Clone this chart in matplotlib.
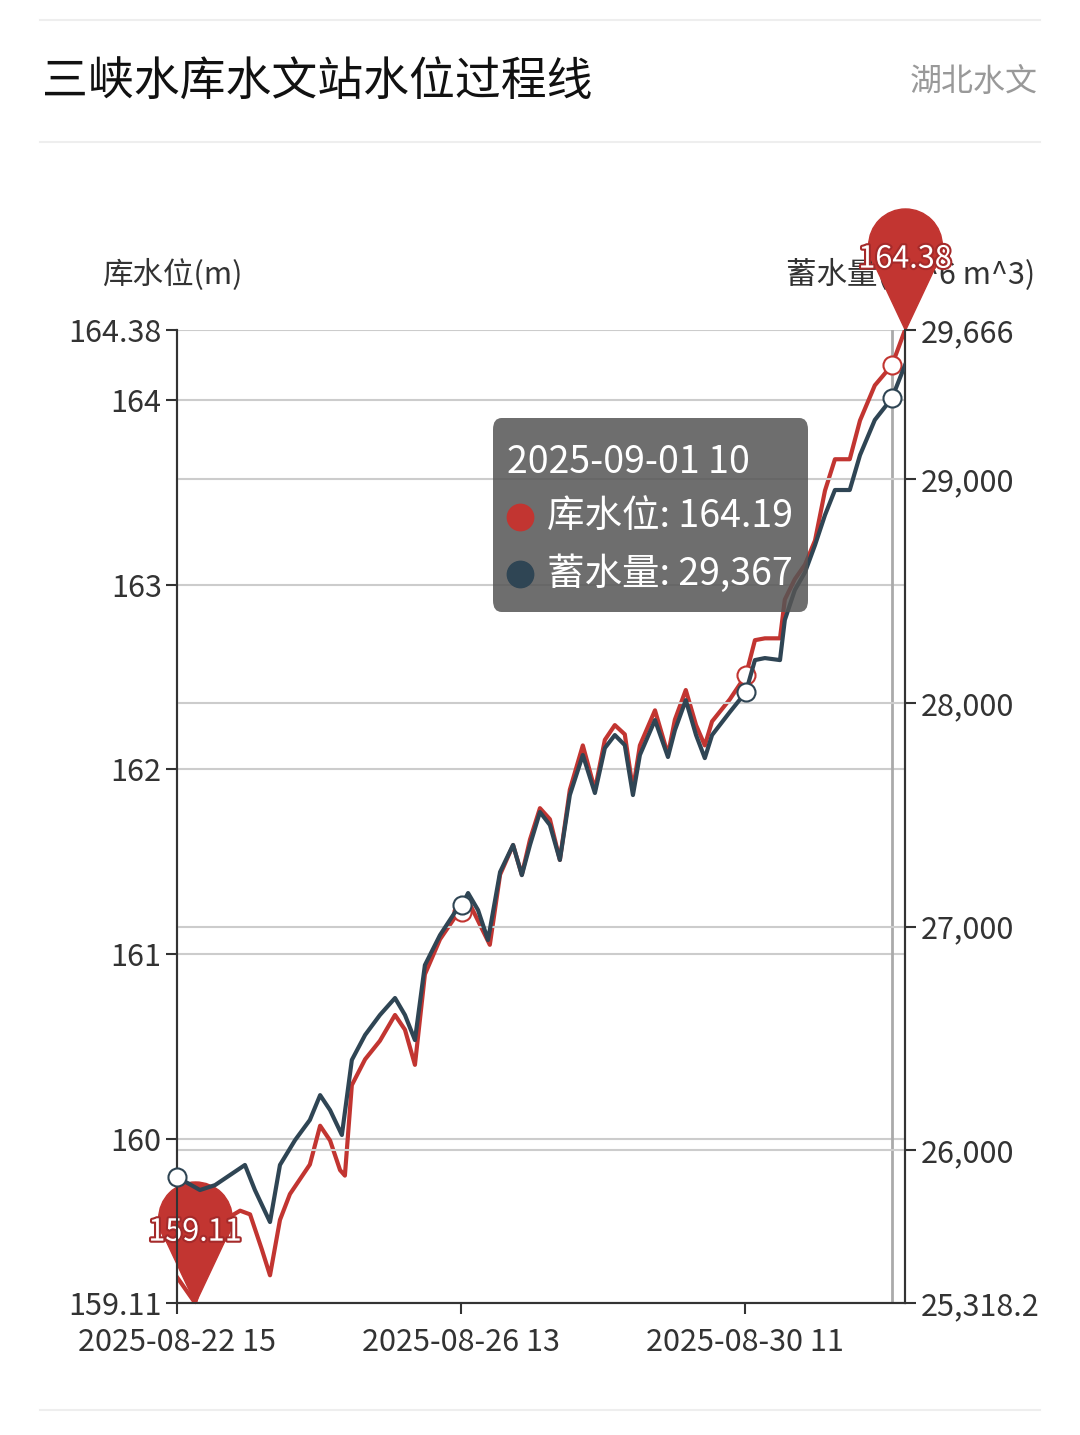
import matplotlib.pyplot as plt
from matplotlib.path import Path
from matplotlib.patches import FancyBboxPatch
import matplotlib.patheffects as pe

plt.rcParams['font.family'] = ['Noto Sans CJK SC', 'DejaVu Sans']

# hours since 2025-08-22 15:00
level_hours = [0, 6, 12.6, 20.9, 24.2, 28.1, 30.8, 34.1, 37.4, 40.7, 44.0, 47.4, 50.7, 54.0, 55.6,
               57.9, 62.3, 67.2, 72.2, 75.5, 78.8, 82.1, 87.1, 92.1, 94.4, 97.0, 100.3, 103.6,
               107.0, 111.3, 114.2, 116.9, 120.2, 123.5, 126.8, 130.1, 134.4, 138.4, 141.7,
               145.0, 148.3, 151.0, 153.3, 158.3, 162.6, 164.9, 168.5, 171.9, 174.8, 177.2,
               183.1, 188.4, 191.4, 194.7, 199.7, 201.3, 204.6, 208.0, 211.3, 214.6, 217.9,
               222.8, 226.2, 231.1, 236.8, 241.1]
level = [159.25, 159.11, 159.53, 159.61, 159.59, 159.40, 159.26, 159.56, 159.70, 159.78, 159.86,
         160.07, 159.99, 159.83, 159.80, 160.29, 160.43, 160.53, 160.67, 160.59, 160.40, 160.89,
         161.08, 161.20, 161.23, 161.27, 161.16, 161.05, 161.43, 161.59, 161.43, 161.62, 161.79,
         161.73, 161.51, 161.89, 162.13, 161.89, 162.16, 162.24, 162.19, 161.89, 162.13, 162.32,
         162.08, 162.27, 162.43, 162.24, 162.13, 162.26, 162.38, 162.51, 162.70, 162.71, 162.71,
         162.92, 163.03, 163.11, 163.24, 163.51, 163.68, 163.68, 163.89, 164.08, 164.19, 164.38]

storage_hours = [0, 7.6, 12.6, 22.5, 25.8, 30.8, 34.1, 39.1, 44.0, 47.4, 50.7, 54.6, 57.9, 62.3,
                 67.2, 72.2, 75.5, 78.8, 82.1, 87.1, 92.1, 94.4, 96.4, 99.7, 103.0, 107.0, 111.3,
                 114.2, 116.9, 120.2, 123.5, 126.8, 130.1, 134.4, 138.4, 141.7, 145.0, 148.3,
                 151.0, 153.3, 158.3, 162.6, 164.9, 168.5, 171.9, 174.8, 177.2, 183.1, 188.4,
                 191.4, 194.7, 199.7, 201.3, 204.6, 208.0, 211.3, 214.6, 217.9, 222.8, 226.2,
                 231.1, 236.8, 241.1]
storage = [25881, 25823, 25845, 25935, 25823, 25680, 25935, 26046, 26136, 26247, 26180, 26069,
           26404, 26516, 26605, 26681, 26605, 26493, 26828, 26962, 27065, 27096, 27150, 27074,
           26940, 27244, 27365, 27230, 27365, 27512, 27454, 27298, 27588, 27767, 27597, 27798,
           27856, 27811, 27588, 27767, 27923, 27758, 27878, 28012, 27856, 27753, 27856, 27959,
           28048, 28191, 28200, 28191, 28370, 28504, 28584, 28705, 28839, 28951, 28951, 29107,
           29264, 29362, 29509]

x_ticks = [0, 94, 188]
x_labels = ['2025-08-22 15', '2025-08-26 13', '2025-08-30 11']
level_ticks = [159.11, 160, 161, 162, 163, 164, 164.38]
storage_ticks = [25318.2, 26000, 27000, 28000, 29000, 29666]
storage_labels = ['25,318.2', '26,000', '27,000', '28,000', '29,000', '29,666']

RED = '#c23531'
DARK = '#2f4554'
W, H = 1080, 1435

fig = plt.figure(figsize=(W / 100, H / 100), dpi=100)


def fx(x):
    return x / W


def fy(y):
    return 1 - y / H


ax = fig.add_axes([fx(177), fy(1303), fx(905) - fx(177), fy(330) - fy(1303)])
ax2 = ax.twinx()

ax.set_xlim(0, 241.1)
ax.set_ylim(159.11, 164.38)
ax2.set_ylim(25318.2, 29666)

for v in level_ticks:
    ax.axhline(v, color='#cccccc', lw=1.5, zorder=0)
for v in storage_ticks[1:-1]:
    ax2.axhline(v, color='#cccccc', lw=1.5, zorder=0)
ax.axvline(236.8, color='#aaaaaa', lw=2, zorder=1)

ax.plot(level_hours, level, color=RED, lw=3, zorder=3)
ax2.plot(storage_hours, storage, color=DARK, lw=3, zorder=3)

# open circle markers
for h, v in [(94.4, 161.23), (188.4, 162.51), (236.8, 164.19)]:
    ax.plot(h, v, 'o', ms=13, mfc='white', mec=RED, mew=1.5, zorder=5, clip_on=False)
for h, v in [(0, 25881), (94.4, 27096), (188.4, 28048), (236.8, 29362)]:
    ax2.plot(h, v, 'o', ms=13, mfc='white', mec=DARK, mew=1.5, zorder=5, clip_on=False)

# pin markers
circ = Path.circle((0, 2.3), 1.0)
tri = Path([(0.8, 1.7), (-0.8, 1.7), (0, 0), (0.8, 1.7)],
           [Path.MOVETO, Path.LINETO, Path.LINETO, Path.CLOSEPOLY])
pin = Path.make_compound_path(circ, tri)
for h, v in [(level_hours[1], level[1]), (level_hours[-1], level[-1])]:
    ax.plot(h, v, marker=pin, ms=175, color=RED, mec=RED, zorder=6, clip_on=False)
    ax.annotate(f'{v:.2f}', (h, v), xytext=(0, 51), textcoords='offset points',
                ha='center', va='center', fontsize=22, color='white', zorder=7,
                annotation_clip=False,
                path_effects=[pe.withStroke(linewidth=3, foreground='#a52a2a')])

for a in (ax, ax2):
    a.spines['top'].set_visible(False)
    for s in ('left', 'right', 'bottom'):
        a.spines[s].set_color('#333333')
        a.spines[s].set_linewidth(1.5)
ax.set_xticks(x_ticks)
ax.set_xticklabels(x_labels)
ax.set_yticks(level_ticks)
ax.set_yticklabels(['159.11', '160', '161', '162', '163', '164', '164.38'])
ax2.set_yticks(storage_ticks)
ax2.set_yticklabels(storage_labels)
ax.tick_params(length=8, width=1.5, color='#333333', labelsize=22, labelcolor='#333333', pad=3)
ax.tick_params(axis='x', pad=9)
ax2.tick_params(length=8, width=1.5, color='#333333', labelsize=22, labelcolor='#333333', pad=3)

# header
fig.text(fx(42), fy(82), '三峡水库水文站水位过程线', fontsize=33, va='center', color='#111111')
fig.text(fx(1038), fy(82), '湖北水文', fontsize=23, va='center', ha='right', color='#999999')
for y in (20, 142, 1410):
    fig.add_artist(plt.Line2D([fx(40), fx(1040)], [fy(y), fy(y)], color='#eeeeee', lw=1.5))
fig.text(fx(102), fy(275), '库水位(m)', fontsize=22, va='center', color='#333333')
fig.text(fx(1035), fy(275), '蓄水量(10^6 m^3)', fontsize=22, va='center', ha='right',
         color='#333333', zorder=-1)

# tooltip
box = FancyBboxPatch((fx(493), fy(612)), fx(808) - fx(493), fy(418) - fy(612),
                     boxstyle='round,pad=0,rounding_size=0.008', transform=fig.transFigure,
                     fc='#555555', ec='none', alpha=0.85, zorder=10)
fig.add_artist(box)
fig.text(fx(507), fy(462), '2025-09-01 10', fontsize=27, color='white', va='center', zorder=11)
fig.add_artist(plt.Line2D([fx(520)], [fy(517)], marker='o', ms=19, color=RED, zorder=11))
fig.text(fx(547), fy(517), '库水位: 164.19', fontsize=27, color='white', va='center', zorder=11)
fig.add_artist(plt.Line2D([fx(520)], [fy(574)], marker='o', ms=19, color=DARK, zorder=11))
fig.text(fx(547), fy(574), '蓄水量: 29,367', fontsize=27, color='white', va='center', zorder=11)

fig.savefig('out.png', dpi=100)
